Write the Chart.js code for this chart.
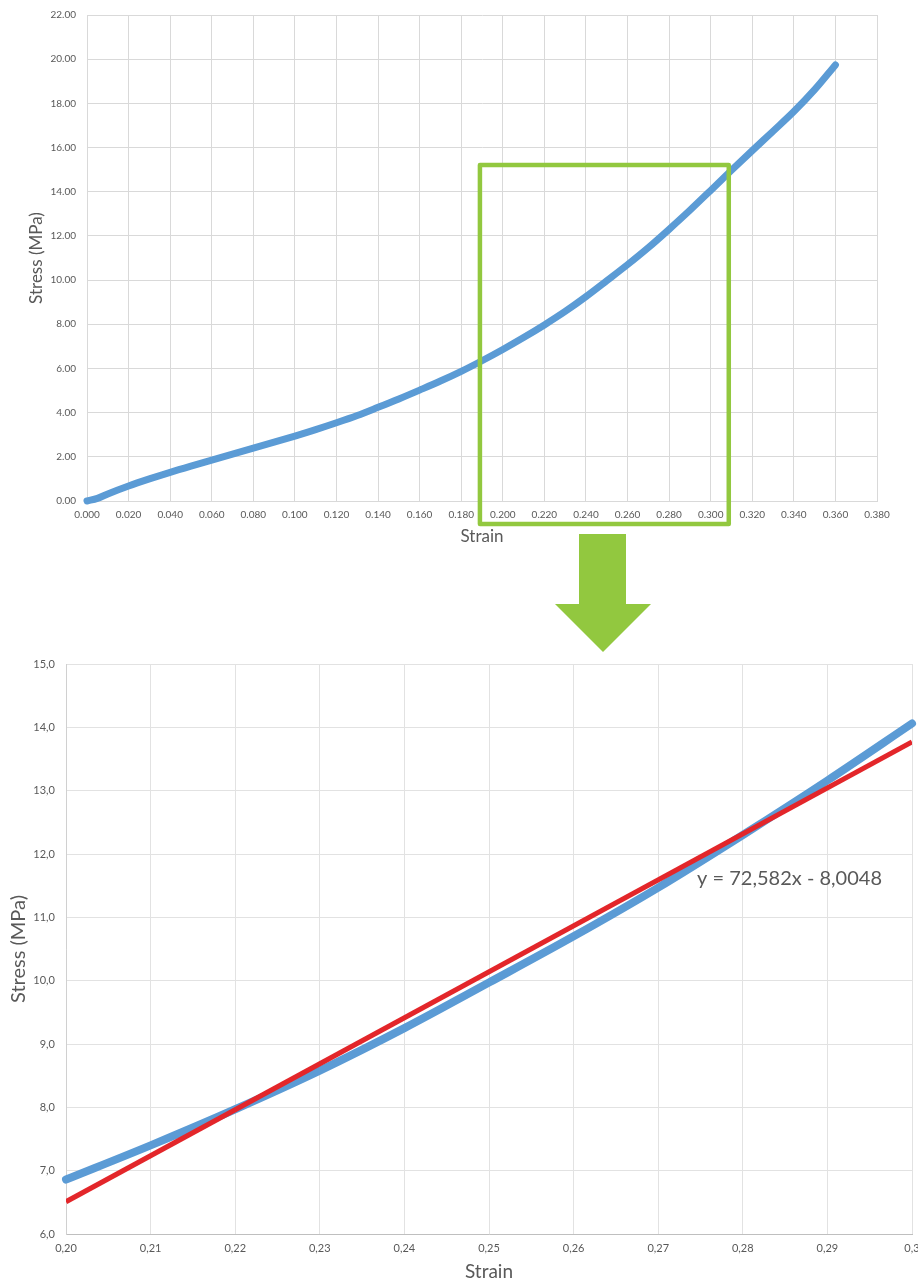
<!DOCTYPE html>
<html><head><meta charset="utf-8">
<script src="https://cdn.jsdelivr.net/npm/chart.js@4.4.1/dist/chart.umd.min.js"></script>
<style>
html,body{margin:0;padding:0;background:#fff;}
body{width:918px;height:1284px;position:relative;overflow:hidden;}
#c1{position:absolute;left:0;top:0;}
#c2{position:absolute;left:0;top:640px;}
#arrow{position:absolute;left:0;top:0;}
</style></head><body>
<canvas id="c1" width="918" height="560"></canvas>
<svg id="arrow" width="918" height="680"><polygon points="579,534 626,534 626,604 651,604 603,652 555,604 579,604" fill="#92C83F"/></svg>
<canvas id="c2" width="918" height="644"></canvas>
<script>
// ---- data ----
const strain = [0, 0.005, 0.01, 0.02, 0.03, 0.04, 0.05, 0.06, 0.07, 0.08, 0.09, 0.10, 0.11, 0.12, 0.13, 0.14, 0.15, 0.16, 0.17, 0.18, 0.19, 0.20, 0.21, 0.22, 0.23, 0.24, 0.25, 0.26, 0.27, 0.28, 0.29, 0.30, 0.31, 0.32, 0.33, 0.34, 0.35, 0.36];
const stress = [0, 0.12, 0.32, 0.68, 1.00, 1.30, 1.58, 1.85, 2.12, 2.39, 2.66, 2.94, 3.23, 3.54, 3.87, 4.24, 4.62, 5.02, 5.43, 5.87, 6.35, 6.86, 7.40, 7.97, 8.58, 9.25, 9.97, 10.70, 11.47, 12.30, 13.16, 14.06, 14.97, 15.86, 16.74, 17.63, 18.62, 19.74];
const fitStrain = [0.20, 0.30];
const fitStress = [6.51, 13.77];
const fitLabel = 'y = 72,582x - 8,0048';
const fitLabelAt = {x: 0.2746, y: 11.62};
const zoomBox = {x0: 0.189, x1: 0.3087, y0: -1.04, y1: 15.21};
const topXTicks = ['0.000','0.020','0.040','0.060','0.080','0.100','0.120','0.140','0.160','0.180','0.200','0.220','0.240','0.260','0.280','0.300','0.320','0.340','0.360','0.380'];
const topYTicks = ['0.00','2.00','4.00','6.00','8.00','10.00','12.00','14.00','16.00','18.00','20.00','22.00'];
const zoomXTicks = ['0,20','0,21','0,22','0,23','0,24','0,25','0,26','0,27','0,28','0,29','0,3'];
const zoomYTicks = ['6,0','7,0','8,0','9,0','10,0','11,0','12,0','13,0','14,0','15,0'];
const xTitle = 'Strain';
const yTitle = 'Stress (MPa)';

// ---- styling ----
const BLUE = '#5B9BD5', RED = '#E3262A', GREEN = '#92C83F', TXT = '#595959', GRID = '#D9D9D9';
const FONT = 'Lato, "Open Sans", sans-serif';

function pts(xs, ys, lo, hi) {
  const out = [];
  xs.forEach((x, i) => { if (x >= lo - 1e-9 && x <= hi + 1e-9) out.push({x: x, y: ys[i]}); });
  return out;
}
function fixX(h) { return s => { s.height = h; s.paddingLeft = 0; s.paddingRight = 0; }; }
function fixY(w) { return s => { s.width = w; s.paddingTop = 0; s.paddingBottom = 0; }; }

const boxPlugin = {
  id: 'box',
  afterDatasetsDraw(chart) {
    const {ctx, scales: {x, y}} = chart;
    const l = x.getPixelForValue(zoomBox.x0), r = x.getPixelForValue(zoomBox.x1);
    const t = y.getPixelForValue(zoomBox.y1), b = y.getPixelForValue(zoomBox.y0);
    ctx.save();
    ctx.strokeStyle = GREEN; ctx.lineWidth = 4.5; ctx.lineJoin = 'round';
    ctx.strokeRect(l, t, r - l, b - t);
    ctx.restore();
  }
};
const labelPlugin = {
  id: 'fitlabel',
  afterDatasetsDraw(chart) {
    const {ctx, scales: {x, y}} = chart;
    ctx.save();
    ctx.font = '20px ' + FONT; ctx.fillStyle = TXT;
    ctx.textAlign = 'left'; ctx.textBaseline = 'middle';
    ctx.fillText(fitLabel, x.getPixelForValue(fitLabelAt.x), y.getPixelForValue(fitLabelAt.y));
    ctx.restore();
  }
};

function draw() {
  Chart.defaults.font.family = FONT;
  Chart.defaults.color = TXT;

  new Chart(document.getElementById('c1'), {
    type: 'line',
    data: { datasets: [{
      data: pts(strain, stress, 0, 1),
      borderColor: BLUE, borderWidth: 7, pointRadius: 0, borderCapStyle: 'round', borderJoinStyle: 'round',
      cubicInterpolationMode: 'monotone', clip: false, fill: false
    }]},
    options: {
      responsive: false, maintainAspectRatio: false, animation: false,
      layout: { padding: {top: 15, right: 41, bottom: 13, left: 0} },
      plugins: { legend: {display: false}, tooltip: {enabled: false} },
      scales: {
        x: { type: 'linear', min: 0, max: 0.38,
          afterFit: fixX(46),
          grid: { color: GRID, lineWidth: 1, drawTicks: false },
          border: { color: GRID },
          ticks: { stepSize: 0.02, autoSkip: false, maxRotation: 0, padding: 8, color: TXT, font: {size: 10},
            callback: v => topXTicks[Math.round(v / 0.02)] },
          title: { display: true, text: xTitle, color: TXT, font: {size: 17}, padding: {top: 0, bottom: 0} }
        },
        y: { type: 'linear', min: 0, max: 22,
          afterFit: fixY(87),
          grid: { color: GRID, lineWidth: 1, drawTicks: false },
          border: { color: GRID },
          ticks: { stepSize: 2, padding: 11, color: TXT, font: {size: 10},
            callback: v => topYTicks[Math.round(v / 2)] },
          title: { display: true, text: yTitle, color: TXT, font: {size: 17}, padding: {top: 26.8, bottom: 0} }
        }
      }
    },
    plugins: [boxPlugin]
  });

  new Chart(document.getElementById('c2'), {
    type: 'line',
    data: { datasets: [
      { data: pts(strain, stress, 0.20, 0.30),
        borderColor: BLUE, borderWidth: 8, pointRadius: 0, borderCapStyle: 'round', borderJoinStyle: 'round',
        cubicInterpolationMode: 'monotone', clip: false, fill: false, order: 2 },
      { data: pts(fitStrain, fitStress, 0.20, 0.30),
        borderColor: RED, borderWidth: 5, pointRadius: 0, borderCapStyle: 'butt', fill: false, order: 1 }
    ]},
    options: {
      responsive: false, maintainAspectRatio: false, animation: false,
      layout: { padding: {top: 24, right: 6, bottom: 0, left: 0} },
      plugins: { legend: {display: false}, tooltip: {enabled: false} },
      scales: {
        x: { type: 'linear', min: 0.20, max: 0.30,
          afterFit: fixX(50),
          grid: { color: '#E2E2E2', lineWidth: 1, drawTicks: false },
          border: { color: '#BFBFBF' },
          ticks: { stepSize: 0.01, autoSkip: false, maxRotation: 0, padding: 7.4, color: TXT, font: {size: 11},
            callback: v => zoomXTicks[Math.round((v - 0.20) / 0.01)] },
          title: { display: true, text: xTitle, color: TXT, font: {size: 19}, padding: {top: 0, bottom: 0.6} }
        },
        y: { type: 'linear', min: 6, max: 15,
          afterFit: fixY(66),
          grid: { color: '#E2E2E2', lineWidth: 1, drawTicks: false },
          border: { color: '#D0D0D0' },
          ticks: { stepSize: 1, padding: 11, color: TXT, font: {size: 11},
            callback: v => zoomYTicks[Math.round(v - 6)] },
          title: { display: true, text: yTitle, color: TXT, font: {size: 20}, padding: {top: 7, bottom: 0} }
        }
      }
    },
    plugins: [labelPlugin]
  });
}

if (document.fonts && document.fonts.load) {
  document.fonts.load('10px Lato').then(draw, draw);
} else { draw(); }
</script>
</body></html>
